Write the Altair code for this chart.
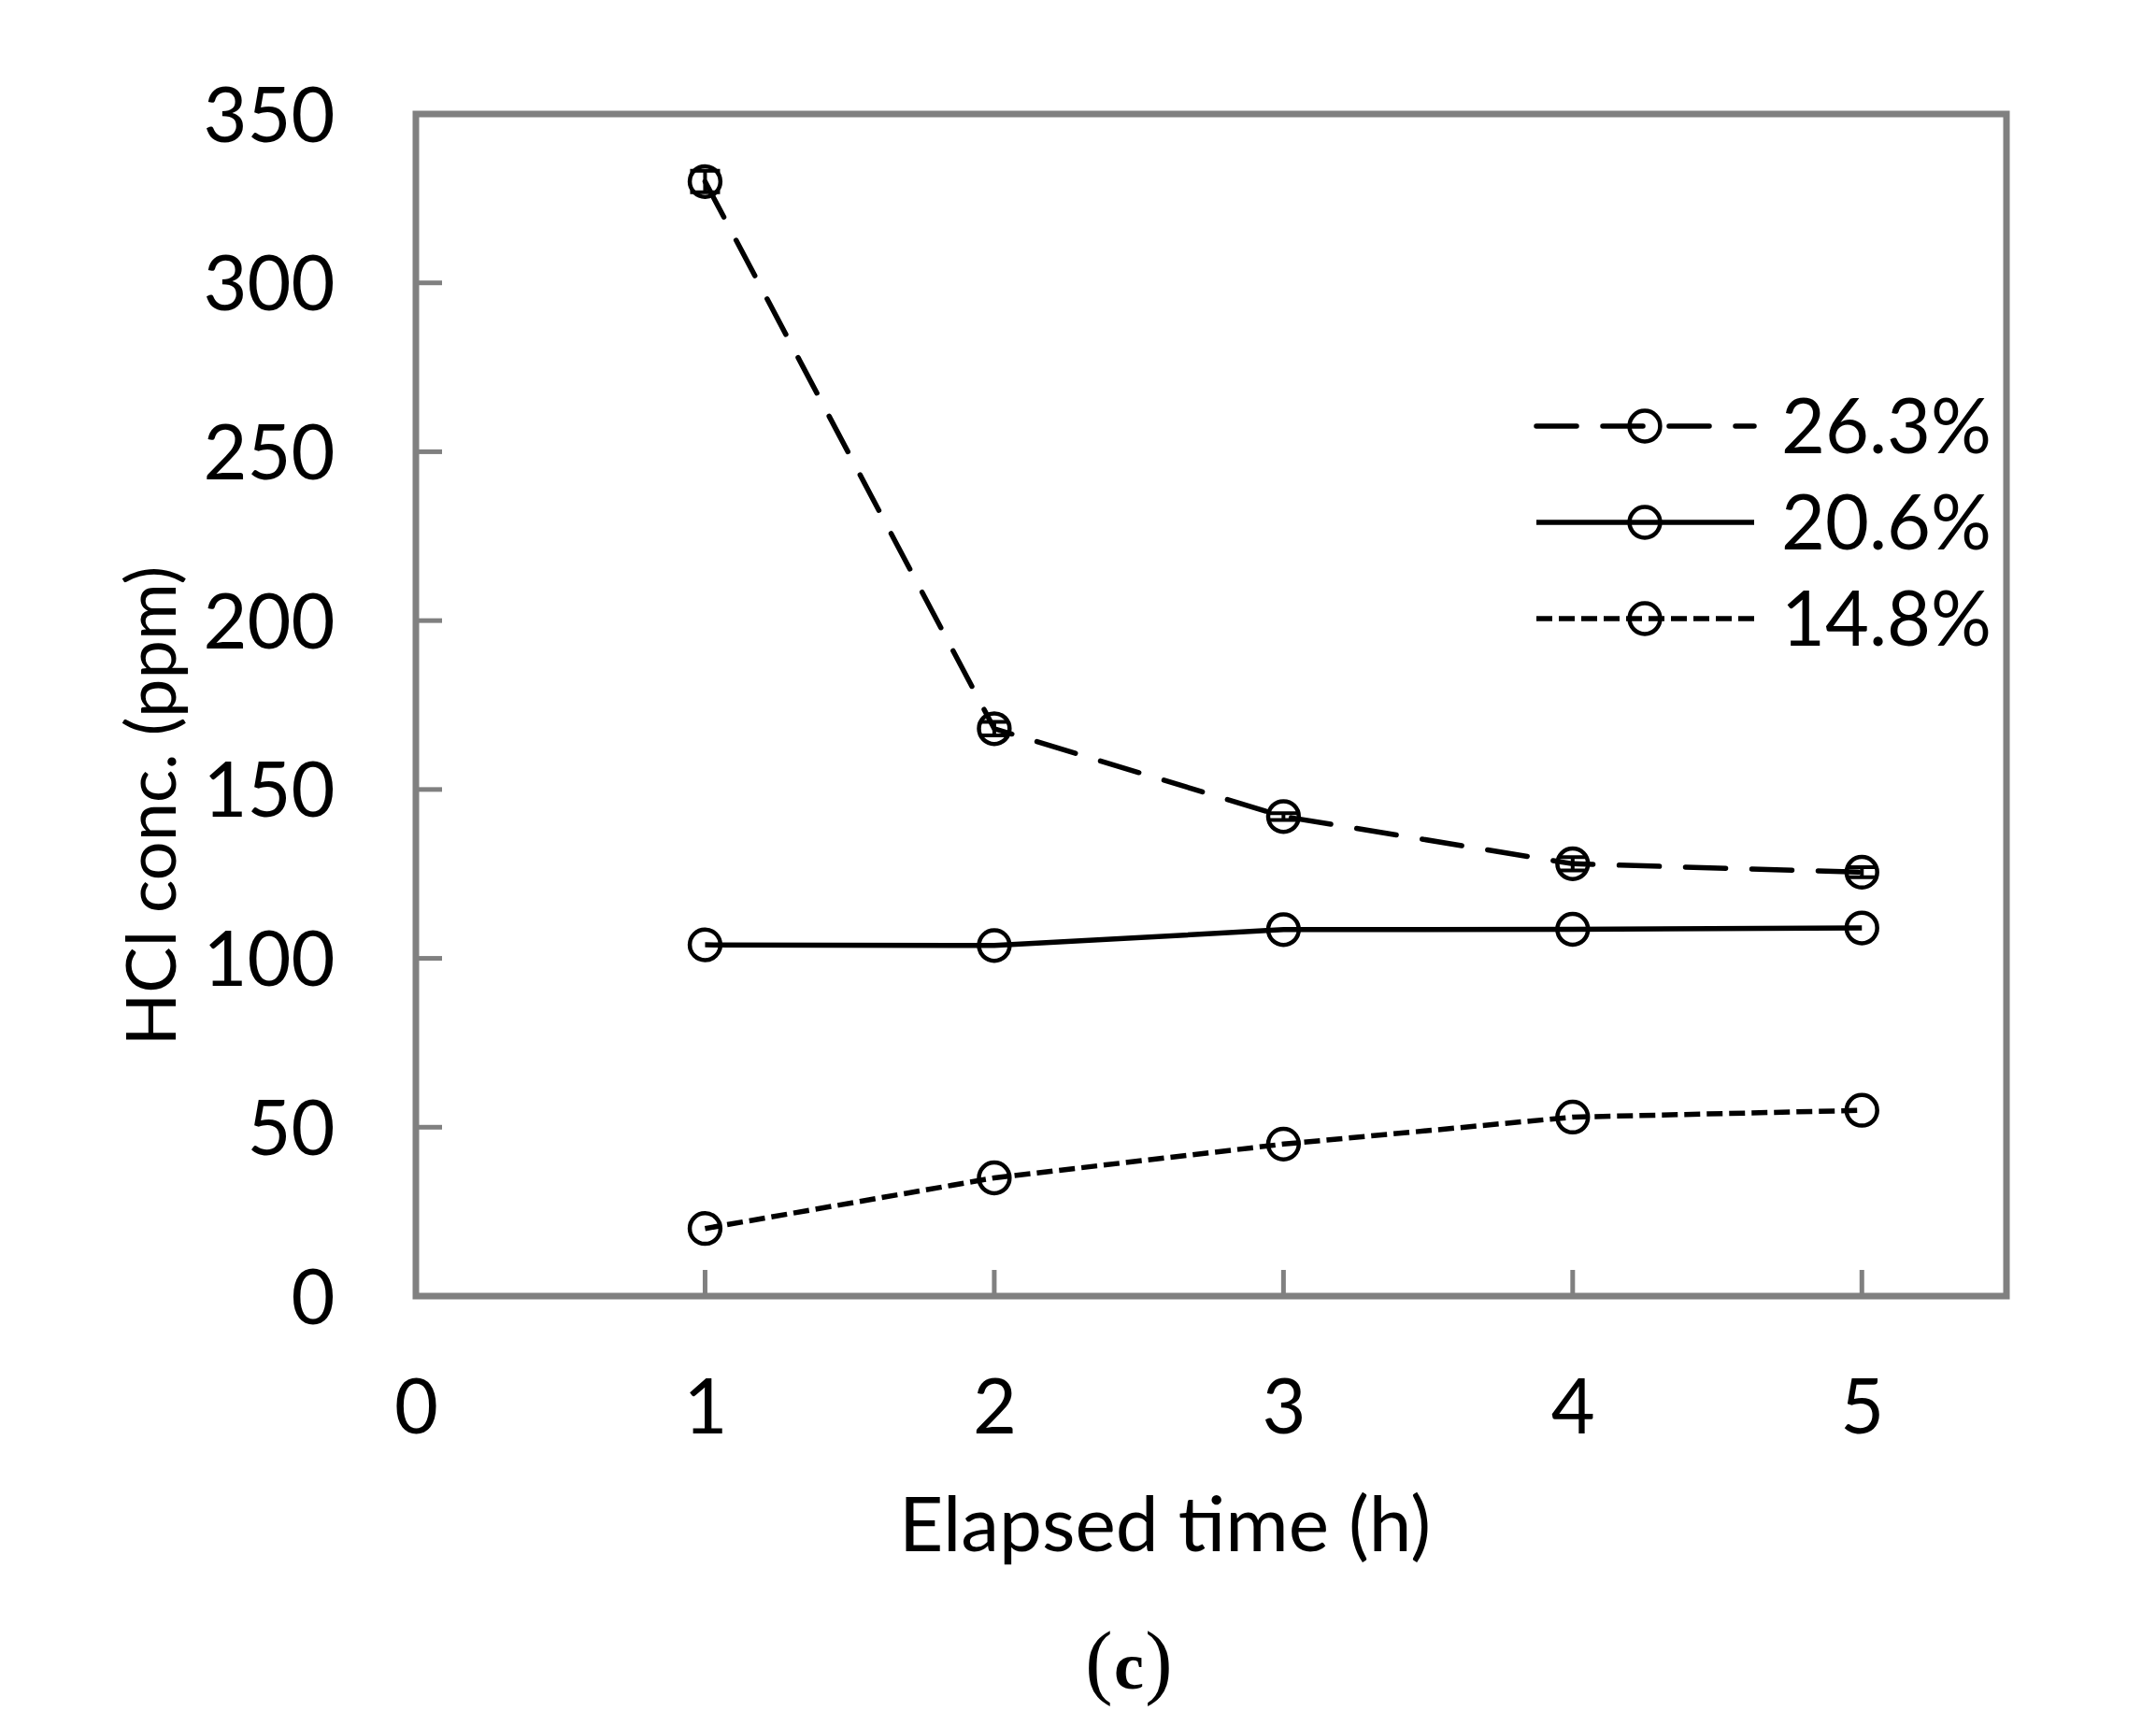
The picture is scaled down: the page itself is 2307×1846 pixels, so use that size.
import altair as alt
import pandas as pd

# ---------------- data ----------------
series = ["26.3%", "20.6%", "14.8%"]
time_h = [1, 2, 3, 4, 5]
conc_263 = [330, 168, 142, 128, 125.5]
conc_206 = [104, 103.8, 108.5, 108.6, 109]
conc_148 = [20, 35, 45, 53, 55]
err_263 = [3.2, 2.0, 1.0, 2.0, 1.5]

x_ticks = [0, 1, 2, 3, 4, 5]
y_ticks = [0, 50, 100, 150, 200, 250, 300, 350]

x_title = "Elapsed time (h)"
y_title = "HCl conc. (ppm)"
panel_label = ["(", "c", ")"]

# ---------------- styling ----------------
W, H = 1702, 1265
FONT = "Lato"
GRAY = "#808080"
dash_styles = {
    "26.3%": dict(strokeDash=[43, 28], strokeCap="round"),
    "20.6%": dict(strokeCap="butt"),
    "14.8%": dict(strokeDash=[17, 7], strokeCap="butt"),
}
legend_rows = [334, 437, 540]

values = {"26.3%": conc_263, "20.6%": conc_206, "14.8%": conc_148}
rows = []
for s in series:
    for i, t in enumerate(time_h):
        rows.append({"series": s, "time": t, "conc": values[s][i]})
df = pd.DataFrame(rows)

err_df = pd.DataFrame({
    "time": time_h,
    "lo": [c - e for c, e in zip(conc_263, err_263)],
    "hi": [c + e for c, e in zip(conc_263, err_263)],
})

xscale = alt.Scale(domain=[0, 5.5], nice=False, zero=False)
yscale = alt.Scale(domain=[0, 350], nice=False, zero=False)

x_axis = alt.Axis(
    values=x_ticks, ticks=False, domain=False, grid=False, labelFlush=False,
    labelFont=FONT, labelFontSize=81, labelColor="black",
    labelPadding=146, labelBaseline="alphabetic",
    title=x_title, titleFont=FONT, titleFontSize=82, titleFontWeight="normal",
    titleColor="black", titleX=801, titleY=272, titleBaseline="alphabetic",
    titleAlign="center",
)
y_axis = alt.Axis(
    values=y_ticks, ticks=False, domain=False, grid=False, labelFlush=False,
    labelFont=FONT, labelFontSize=81, labelColor="black",
    labelPadding=87, labelBaseline="alphabetic", labelOffset=29,
    title=y_title, titleFont=FONT, titleFontSize=74, titleFontWeight="normal",
    titleColor="black", titleAngle=-90, titleX=-258, titleY=740,
    titleBaseline="alphabetic", titleAlign="center",
)


def X(field):
    return alt.X(f"{field}:Q", scale=xscale, axis=x_axis, title=x_title)


def Y(field):
    return alt.Y(f"{field}:Q", scale=yscale, axis=y_axis, title=y_title)


base = alt.Chart(df)
layers = []

# inward tick marks
ytick_df = pd.DataFrame({"v": y_ticks[1:-1]})
layers.append(alt.Chart(ytick_df).mark_rule(color=GRAY, strokeWidth=5).encode(
    y=Y("v"), x=alt.value(0), x2=alt.value(28)))
xtick_df = pd.DataFrame({"v": x_ticks[1:]})
layers.append(alt.Chart(xtick_df).mark_rule(color=GRAY, strokeWidth=5).encode(
    x=X("v"), y=alt.value(H), y2=alt.value(H - 28)))

# series lines
for s in series:
    layers.append(base.transform_filter(alt.datum.series == s).mark_line(
        color="black", strokeWidth=5.5, **dash_styles[s]).encode(
        x=X("time"), y=Y("conc"), order="time:Q"))

# error bars (26.3%)
err = alt.Chart(err_df)
layers.append(err.mark_rule(color="black", strokeWidth=4).encode(
    x=X("time"), y=Y("lo"), y2="hi:Q"))
for col in ["lo", "hi"]:
    layers.append(err.mark_tick(color="black", orient="horizontal", size=32,
                                thickness=4, opacity=1).encode(
        x=X("time"), y=Y(col)))

# markers
layers.append(base.mark_point(shape="circle", filled=False, size=1075,
                              strokeWidth=4.5, color="black", opacity=1).encode(
    x=X("time"), y=Y("conc")))

# manual legend
for s, ry in zip(series, legend_rows):
    ldf = pd.DataFrame({"label": [s]})
    lc = alt.Chart(ldf)
    layers.append(lc.mark_rule(color="black", strokeWidth=5.5, **dash_styles[s]).encode(
        x=alt.value(1199), x2=alt.value(1432), y=alt.value(ry)))
    layers.append(lc.mark_point(shape="circle", filled=False, size=1075,
                                strokeWidth=4.5, color="black", opacity=1).encode(
        x=alt.value(1315), y=alt.value(ry)))
    layers.append(lc.mark_text(font=FONT, fontSize=81, color="black", align="left",
                               baseline="alphabetic").encode(
        x=alt.value(1461), y=alt.value(ry + 29), text="label:N"))

# panel label "(c)"
pxs = [731, 763, 795]
for i, ch in enumerate(panel_label):
    bold = ch == "c"
    layers.append(alt.Chart(pd.DataFrame({"t": [ch]})).mark_text(
        font="Liberation Serif", fontSize=72 if bold else 88,
        fontWeight="bold" if bold else "normal", color="black",
        align="center", baseline="alphabetic").encode(
        x=alt.value(pxs[i]), y=alt.value(1685), text="t:N"))

chart = alt.layer(*layers).properties(
    width=W, height=H,
    autosize=alt.AutoSizeParams(type="none"),
    padding={"left": 437, "top": 114, "right": 152, "bottom": 453},
    background="white",
).configure_view(stroke=GRAY, strokeWidth=7)

chart.save("out.html", embed_options={"renderer": "svg", "actions": False})
